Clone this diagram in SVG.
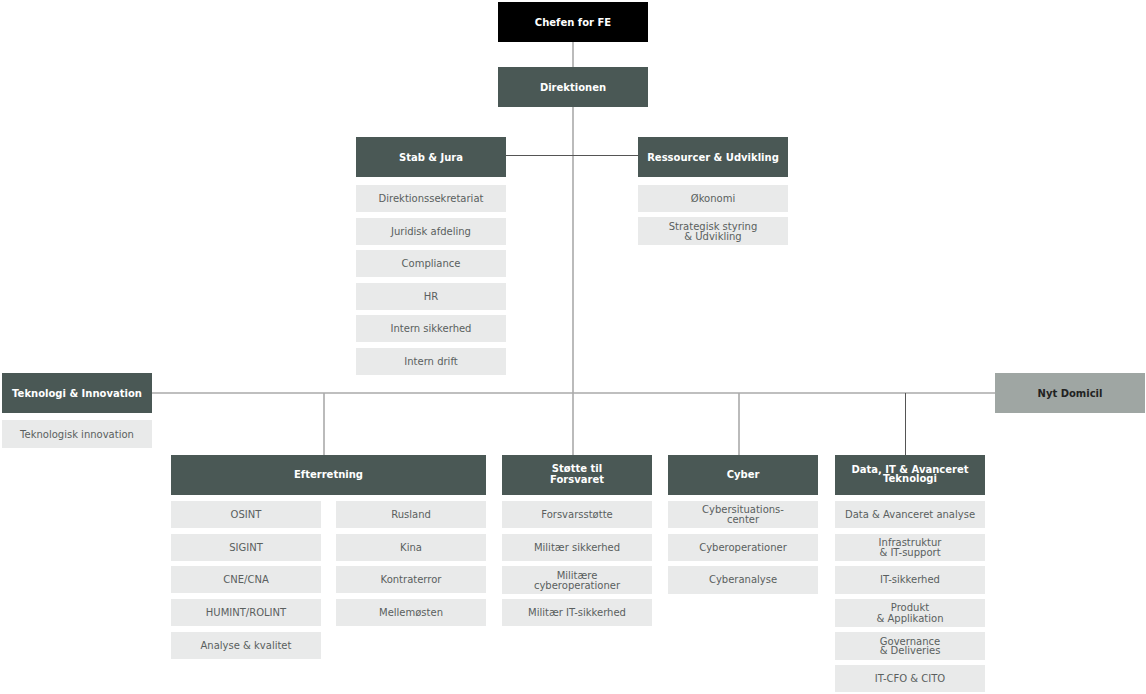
<svg xmlns="http://www.w3.org/2000/svg" width="1146" height="694" viewBox="0 0 1146 694">
<style>
.h{fill:#4a5855}
.s{fill:#e9eaea}
.ht{font-family:"DejaVu Sans",Verdana,sans-serif;font-size:10px;font-weight:bold;fill:#ffffff;text-anchor:middle}
.st{font-family:"DejaVu Sans",Verdana,sans-serif;font-size:10px;fill:#5a5f5e;text-anchor:middle}
.g{stroke:#aaaaaa;stroke-width:1.6;fill:none}
.d{stroke:#555555;stroke-width:1;fill:none}
</style>
<rect width="1146" height="694" fill="#ffffff"/>
<g id="connectors">
<line class="g" x1="573" y1="42" x2="573" y2="67"/>
<line class="g" x1="573" y1="107" x2="573" y2="455"/>
<line class="d" x1="506" y1="155.5" x2="638" y2="155.5"/>
<line class="g" x1="152" y1="393" x2="995" y2="393"/>
<line class="g" x1="324" y1="393" x2="324" y2="455"/>
<line class="g" x1="739" y1="393" x2="739" y2="455"/>
<line class="d" x1="905.5" y1="393" x2="905.5" y2="455"/>
</g>
<g id="chefen"><rect x="498" y="2" width="150" height="40" fill="#000000"/><text class="ht" x="573" y="25.5">Chefen for FE</text></g>
<g id="direktionen"><rect class="h" x="498" y="67" width="150" height="40"/><text class="ht" x="573" y="90.5">Direktionen</text></g>
<g id="stab">
<rect class="h" x="356" y="137" width="150" height="40"/><text class="ht" x="431" y="160.5">Stab &amp; Jura</text>
<rect class="s" x="356" y="185" width="150" height="27"/><text class="st" x="431" y="202">Direktionssekretariat</text>
<rect class="s" x="356" y="218" width="150" height="27"/><text class="st" x="431" y="235">Juridisk afdeling</text>
<rect class="s" x="356" y="250" width="150" height="27"/><text class="st" x="431" y="267">Compliance</text>
<rect class="s" x="356" y="283" width="150" height="27"/><text class="st" x="431" y="300">HR</text>
<rect class="s" x="356" y="315" width="150" height="27"/><text class="st" x="431" y="332">Intern sikkerhed</text>
<rect class="s" x="356" y="348" width="150" height="27"/><text class="st" x="431" y="365">Intern drift</text>
</g>
<g id="ressourcer">
<rect class="h" x="638" y="137" width="150" height="40"/><text class="ht" x="713" y="160.5">Ressourcer &amp; Udvikling</text>
<rect class="s" x="638" y="185" width="150" height="27"/><text class="st" x="713" y="202">Økonomi</text>
<rect class="s" x="638" y="217" width="150" height="28"/><text class="st" x="713" y="229.5">Strategisk styring</text><text class="st" x="713" y="239.5">&amp; Udvikling</text>
</g>
<g id="teknologi">
<rect class="h" x="2" y="373" width="150" height="40"/><text class="ht" x="77" y="396.5">Teknologi &amp; Innovation</text>
<rect class="s" x="2" y="420" width="150" height="28"/><text class="st" x="77" y="438">Teknologisk innovation</text>
</g>
<g id="nytdomicil"><rect x="995" y="373" width="150" height="40" fill="#9fa6a3"/><text class="ht" x="1070" y="396.5" style="fill:#222222">Nyt Domicil</text></g>
<g id="efterretning">
<rect class="h" x="171" y="455" width="315" height="40"/><text class="ht" x="328.5" y="477.5">Efterretning</text>
<rect class="s" x="171" y="501" width="150" height="27"/><text class="st" x="246" y="518">OSINT</text>
<rect class="s" x="171" y="534" width="150" height="27"/><text class="st" x="246" y="551">SIGINT</text>
<rect class="s" x="171" y="566" width="150" height="27"/><text class="st" x="246" y="583">CNE/CNA</text>
<rect class="s" x="171" y="599" width="150" height="27"/><text class="st" x="246" y="616">HUMINT/ROLINT</text>
<rect class="s" x="171" y="632" width="150" height="27"/><text class="st" x="246" y="649">Analyse &amp; kvalitet</text>
<rect class="s" x="336" y="501" width="150" height="27"/><text class="st" x="411" y="518">Rusland</text>
<rect class="s" x="336" y="534" width="150" height="27"/><text class="st" x="411" y="551">Kina</text>
<rect class="s" x="336" y="566" width="150" height="27"/><text class="st" x="411" y="583">Kontraterror</text>
<rect class="s" x="336" y="599" width="150" height="27"/><text class="st" x="411" y="616">Mellemøsten</text>
</g>
<g id="stotte">
<rect class="h" x="502" y="455" width="150" height="40"/><text class="ht" x="577" y="472">Støtte til</text><text class="ht" x="577" y="483">Forsvaret</text>
<rect class="s" x="502" y="501" width="150" height="27"/><text class="st" x="577" y="518">Forsvarsstøtte</text>
<rect class="s" x="502" y="534" width="150" height="27"/><text class="st" x="577" y="551">Militær sikkerhed</text>
<rect class="s" x="502" y="566" width="150" height="28"/><text class="st" x="577" y="578.5">Militære</text><text class="st" x="577" y="588.5">cyberoperationer</text>
<rect class="s" x="502" y="599" width="150" height="27"/><text class="st" x="577" y="616">Militær IT-sikkerhed</text>
</g>
<g id="cyber">
<rect class="h" x="668" y="455" width="150" height="40"/><text class="ht" x="743" y="477.5">Cyber</text>
<rect class="s" x="668" y="501" width="150" height="27"/><text class="st" x="743" y="512.5">Cybersituations-</text><text class="st" x="743" y="522.5">center</text>
<rect class="s" x="668" y="534" width="150" height="27"/><text class="st" x="743" y="551">Cyberoperationer</text>
<rect class="s" x="668" y="566" width="150" height="28"/><text class="st" x="743" y="583">Cyberanalyse</text>
</g>
<g id="data">
<rect class="h" x="835" y="455" width="150" height="40"/><text class="ht" x="910" y="473">Data, IT &amp; Avanceret</text><text class="ht" x="910" y="482">Teknologi</text>
<rect class="s" x="835" y="501" width="150" height="27"/><text class="st" x="910" y="518">Data &amp; Avanceret analyse</text>
<rect class="s" x="835" y="534" width="150" height="27"/><text class="st" x="910" y="546">Infrastruktur</text><text class="st" x="910" y="556">&amp; IT-support</text>
<rect class="s" x="835" y="566" width="150" height="28"/><text class="st" x="910" y="583">IT-sikkerhed</text>
<rect class="s" x="835" y="599" width="150" height="28"/><text class="st" x="910" y="611">Produkt</text><text class="st" x="910" y="621.5">&amp; Applikation</text>
<rect class="s" x="835" y="632" width="150" height="28"/><text class="st" x="910" y="644.5">Governance</text><text class="st" x="910" y="654">&amp; Deliveries</text>
<rect class="s" x="835" y="665" width="150" height="27"/><text class="st" x="910" y="682">IT-CFO &amp; CITO</text>
</g>
</svg>
